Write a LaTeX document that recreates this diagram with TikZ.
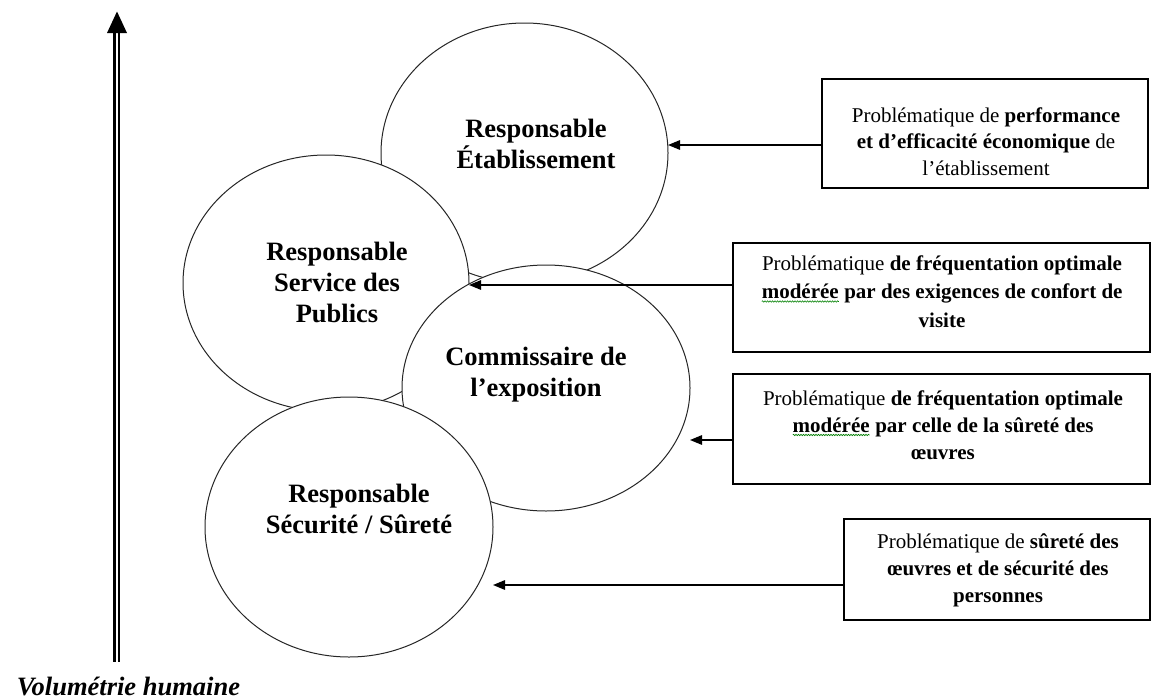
\documentclass[tikz,border=0pt]{standalone}
\usepackage{fontspec}
\setmainfont{Liberation Serif}
\usetikzlibrary{shapes.geometric,arrows.meta,decorations.pathmorphing}
\newcommand\squig[1]{\tikz[baseline=(sq.base)]{\node[inner sep=0pt,outer sep=0pt,anchor=base] (sq) at (0,0) {#1};\draw[green!50!black,line width=0.6pt,decorate,decoration={snake,amplitude=0.7pt,segment length=2.5pt}] ([yshift=-2.5pt]sq.south west) -- ([yshift=-2.5pt]sq.south east);}}
\tikzset{
  circ/.style={ellipse, draw=black!85, line width=1pt, fill=white, inner sep=0pt, outer sep=0pt},
  ctext/.style={font=\fontsize{26.5}{31}\selectfont\bfseries, align=center, inner sep=0pt},
  pbox/.style={draw, line width=1.4pt, inner sep=0pt, outer sep=0pt, fill=white},
  btext/.style={align=center, inner sep=0pt},
  arr/.style={line width=1.4pt, -{Triangle[length=12pt,width=9.5pt]}},
}
\begin{document}
\begin{tikzpicture}[x=1pt,y=-1pt]
\useasboundingbox (0,0) rectangle (1151,699);
% circles
\node[circ, minimum width=287pt, minimum height=260pt] (E1) at (524.5,153) {};
\node[circ, minimum width=286pt, minimum height=256pt] (E2) at (326,283) {};
\node[circ, minimum width=288pt, minimum height=246pt] (E3) at (546,388) {};
\node[circ, minimum width=288pt, minimum height=260pt] (E4) at (349,527) {};
\node[ctext] (t1) at (536,144) {Responsable\\Établissement};
\node[ctext] (t2) at (337,282) {Responsable\\Service des\\Publics};
\node[ctext] (t3) at (536,375) {Commissaire de\\l’exposition};
\node[ctext] (t4) at (359,509) {Responsable\\Sécurité / Sûreté};
% boxes
\node[pbox, minimum width=326pt, minimum height=109pt] (b1) at (985,133.5) {};
\node[pbox, minimum width=417pt, minimum height=109pt] (b2) at (941.5,297.5) {};
\node[pbox, minimum width=417pt, minimum height=110pt] (b3) at (941.5,429) {};
\node[pbox, minimum width=306pt, minimum height=101pt] (b4) at (997,569.5) {};
\node[btext, font=\fontsize{21}{26.5}\selectfont] (bt1) at (986,141.5)
  {Problématique de \textbf{performance}\\\textbf{et d’efficacité économique} de\\l’établissement};
\node[btext, font=\fontsize{21}{28.5}\selectfont] (bt2) at (942,291.5)
  {Problématique \textbf{de fréquentation optimale}\\\textbf{\squig{modérée} par des exigences de confort de}\\\textbf{visite}};
\node[btext, font=\fontsize{21}{27}\selectfont] (bt3) at (943,425)
  {Problématique \textbf{de fréquentation optimale}\\\textbf{\squig{modérée} par celle de la sûreté des}\\\textbf{œuvres}};
\node[btext, font=\fontsize{21}{27}\selectfont] (bt4) at (998,570)
  {Problématique de \textbf{sûreté des}\\\textbf{œuvres et de sécurité des}\\\textbf{personnes}};
% connectors
\draw[arr] ([yshift=-11.5pt]b1.west) coordinate (s1) -- (s1 -| E1.east);
\draw[arr] ([yshift=12.5pt]b2.west) coordinate (s2) -- (s2 -| E2.east);
\draw[arr] ([yshift=-11pt]b3.west) coordinate (s3) -- (s3 -| E3.east);
\draw[arr] ([yshift=-15.5pt]b4.west) coordinate (s4) -- (s4 -| E4.east);
% vertical axis
\coordinate (vt) at (117,11.5);
\coordinate (vh) at (117,33);
\coordinate (vb) at (117,662);
\draw[line width=3.4pt] ([xshift=-2.3pt]vh) -- ([xshift=-2.3pt]vb);
\draw[line width=1.8pt] ([xshift=2pt]vh) -- ([xshift=2pt]vb);
\fill (vt) -- ([xshift=10pt]vh) -- ([xshift=-10pt]vh) -- cycle;
\node[font=\fontsize{26.5}{30}\selectfont\bfseries\itshape, anchor=base, inner sep=0pt] (vol) at (128.5,695) {Volumétrie humaine};
\end{tikzpicture}
\end{document}
